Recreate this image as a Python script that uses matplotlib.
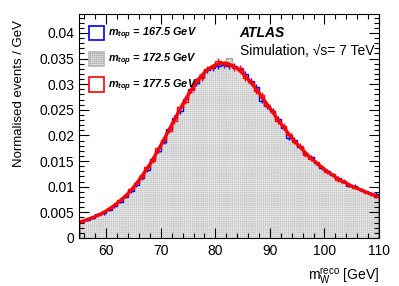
import numpy as np
import matplotlib
matplotlib.use("Agg")
import matplotlib.pyplot as plt
from matplotlib.patches import Patch
from matplotlib.ticker import MultipleLocator

plt.rcParams['font.family'] = ['Liberation Sans', 'DejaVu Sans']
plt.rcParams['mathtext.fontset'] = 'custom'
plt.rcParams['mathtext.rm'] = 'Liberation Sans'
plt.rcParams['mathtext.it'] = 'Liberation Sans:italic'
plt.rcParams['mathtext.bf'] = 'Liberation Sans:bold:italic'
plt.rcParams['hatch.linewidth'] = 0.6
plt.rcParams['hatch.color'] = '#cdcdcd'

# bin edges (1 GeV bins, 55-110 GeV)
edges = np.arange(55, 111, 1)

# m_top = 172.5 GeV (grey, hatched)
h_172 = [0.0032, 0.0035, 0.0041, 0.0044, 0.0049, 0.0057, 0.0063, 0.0073, 0.0081, 0.0094,
         0.0104, 0.0122, 0.0134, 0.0150, 0.0168, 0.0186, 0.0208, 0.0229, 0.0248, 0.0268,
         0.0284, 0.0300, 0.0320, 0.0330, 0.0334, 0.0338, 0.0340, 0.0352, 0.0336, 0.0328,
         0.0318, 0.0302, 0.0292, 0.0274, 0.0262, 0.0244, 0.0232, 0.0214, 0.0204, 0.0188,
         0.0178, 0.0165, 0.0157, 0.0146, 0.0137, 0.0131, 0.0122, 0.0116, 0.0108, 0.0105,
         0.0098, 0.0095, 0.0089, 0.0087, 0.0081]

# m_top = 167.5 GeV (blue)
h_167 = [0.0033, 0.0035, 0.0039, 0.0046, 0.0048, 0.0055, 0.0062, 0.0071, 0.0080, 0.0091,
         0.0103, 0.0117, 0.0132, 0.0155, 0.0170, 0.0188, 0.0212, 0.0234, 0.0247, 0.0272,
         0.0290, 0.0302, 0.0314, 0.0328, 0.0331, 0.0336, 0.0338, 0.0335, 0.0335, 0.0329,
         0.0320, 0.0306, 0.0295, 0.0268, 0.0257, 0.0248, 0.0232, 0.0215, 0.0196, 0.0192,
         0.0178, 0.0164, 0.0158, 0.0147, 0.0136, 0.0131, 0.0123, 0.0117, 0.0110, 0.0102,
         0.0101, 0.0095, 0.0091, 0.0085, 0.0086]

# m_top = 177.5 GeV (red)
h_177 = [0.0032, 0.0037, 0.0040, 0.0045, 0.0051, 0.0057, 0.0065, 0.0075, 0.0082, 0.0095,
         0.0108, 0.0119, 0.0138, 0.0151, 0.0175, 0.0192, 0.0209, 0.0228, 0.0255, 0.0266,
         0.0288, 0.0306, 0.0313, 0.0330, 0.0333, 0.0346, 0.0340, 0.0337, 0.0332, 0.0331,
         0.0312, 0.0304, 0.0287, 0.0279, 0.0258, 0.0247, 0.0228, 0.0219, 0.0201, 0.0187,
         0.0180, 0.0162, 0.0154, 0.0148, 0.0139, 0.0128, 0.0124, 0.0113, 0.0111, 0.0103,
         0.0098, 0.0095, 0.0089, 0.0086, 0.0080]

# fitted curve, read at every GeV
fit_x = np.arange(55, 111, 1)
fit_y = [0.0031, 0.0034, 0.0038, 0.0042, 0.0047, 0.0053, 0.0060, 0.0068, 0.0077, 0.0087,
         0.0099, 0.0113, 0.0128, 0.0144, 0.0162, 0.0181, 0.0201, 0.0221, 0.0241, 0.0261,
         0.0279, 0.0296, 0.0311, 0.0323, 0.0332, 0.0338, 0.0341, 0.0341, 0.0337, 0.0331,
         0.0321, 0.0310, 0.0297, 0.0283, 0.0268, 0.0253, 0.0238, 0.0223, 0.0209, 0.0196,
         0.0183, 0.0172, 0.0161, 0.0151, 0.0142, 0.0134, 0.0126, 0.0119, 0.0112, 0.0107,
         0.0101, 0.0097, 0.0092, 0.0088, 0.0084, 0.0080]

labels = ["167.5", "172.5", "177.5"]

centers = 0.5 * (edges[:-1] + edges[1:])

fig = plt.figure(figsize=(3.99, 2.86), dpi=100)
ax = fig.add_axes([0.198, 0.168, 0.752, 0.783])

# grey hatched histogram
ax.stairs(h_172, edges, fill=True, facecolor="#f4f4f4", edgecolor="#cdcdcd",
          hatch="++++++++", linewidth=0)
ax.stairs(h_172, edges, color="#a8a8a8", linewidth=1.0)

for vals, col in [(h_167, "blue"), (h_177, "red")]:
    v = np.array(vals)
    err = 0.0033 * np.sqrt(v)
    ax.stairs(vals, edges, color=col, linewidth=1.0)
    ax.errorbar(centers, v, yerr=err, fmt="none", ecolor=col, elinewidth=1.0)

ax.plot(fit_x, fit_y, color="red", linewidth=2.3)

ax.set_xlim(55, 110)
ax.set_ylim(0, 0.0437)
ax.xaxis.set_major_locator(MultipleLocator(10))
ax.xaxis.set_minor_locator(MultipleLocator(2))
ax.yaxis.set_major_locator(MultipleLocator(0.005))
ax.yaxis.set_minor_locator(MultipleLocator(0.001))
ax.yaxis.set_major_formatter(plt.FuncFormatter(lambda v, p: "0" if v == 0 else f"{v:g}"))
ax.tick_params(which="both", direction="in", top=True, right=True, labelsize=10)
ax.tick_params(which="major", length=7, width=0.8)
ax.tick_params(which="minor", length=3.5, width=0.8)
ax.tick_params(axis="x", pad=4)

ax.set_ylabel("Normalised events / GeV", fontsize=9.5, ha="right")
ax.yaxis.set_label_coords(-0.18, 0.975)
ax.set_xlabel(r"m$_\mathrm{W}^\mathrm{reco}$ [GeV]", fontsize=10, loc="right", labelpad=6)

handles = [
    Patch(facecolor="white", edgecolor="blue", linewidth=1.2),
    Patch(facecolor="#f4f4f4", edgecolor="#b8b8b8", hatch="++++++++", linewidth=1.2),
    Patch(facecolor="white", edgecolor="red", linewidth=1.2),
]
texts = [r"$\mathbf{m}_{\mathbf{top}}$ = " + m + " GeV" for m in labels]
leg = ax.legend(handles, texts, loc="upper left", bbox_to_anchor=(0.0, 0.99),
                frameon=False, handlelength=1.45, handleheight=1.65, labelspacing=0.85,
                handletextpad=0.3, prop={"size": 7.8, "weight": "bold", "style": "italic"})

ax.text(0.535, 0.915, "ATLAS", transform=ax.transAxes, fontsize=10,
        fontweight="bold", fontstyle="italic", va="center")
ax.text(0.535, 0.835, "Simulation, \u221as= 7 TeV", transform=ax.transAxes,
        fontsize=10, va="center")

fig.savefig("out.png", dpi=100)
